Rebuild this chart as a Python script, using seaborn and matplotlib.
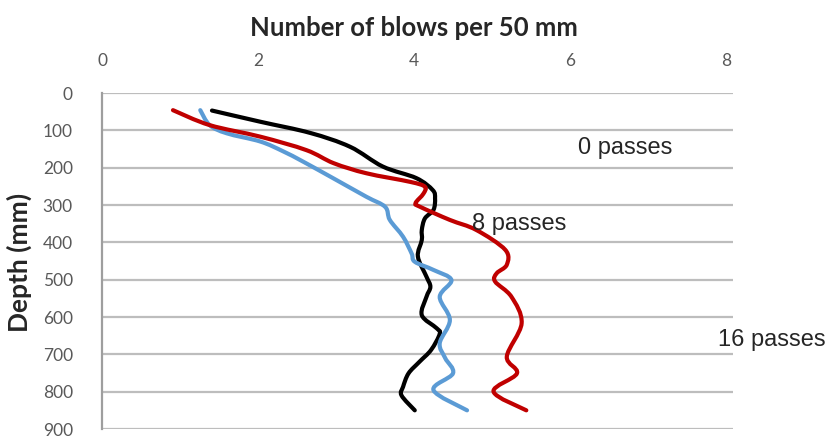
import matplotlib
matplotlib.use("Agg")
import matplotlib.pyplot as plt
from matplotlib.path import Path
from matplotlib.patches import PathPatch
import numpy as np
import seaborn as sns
import pandas as pd

# Penetrometer profiles: blows per 50 mm against depth (mm)
depth_0 = [47, 77, 107, 144, 197, 228, 260, 282, 313, 336, 367, 394, 438, 492,
           519, 546, 595, 630, 645, 688, 720, 751, 787, 810, 850]
blows_0 = [1.41, 2.03, 2.67, 3.18, 3.60, 4.03, 4.24, 4.27, 4.25, 4.14, 4.10, 4.10,
           4.05, 4.16, 4.21, 4.16, 4.10, 4.29, 4.33, 4.22, 4.07, 3.93, 3.86, 3.84, 4.01]

depth_8 = [46, 86, 108, 130, 156, 184, 229, 278, 305, 340, 385, 430, 452, 474,
           501, 546, 608, 670, 710, 751, 796, 850]
blows_8 = [1.26, 1.38, 1.60, 2.03, 2.32, 2.58, 2.97, 3.39, 3.63, 3.69, 3.86, 3.97,
           4.01, 4.25, 4.48, 4.33, 4.46, 4.33, 4.40, 4.50, 4.25, 4.68]

depth_16 = [46, 86, 117, 153, 188, 215, 238, 251, 270, 295, 305, 340, 367, 420,
            460, 483, 505, 546, 617, 706, 751, 800, 850]
blows_16 = [0.91, 1.38, 2.03, 2.62, 2.97, 3.39, 3.95, 4.14, 4.12, 4.02, 4.08, 4.46,
            4.80, 5.17, 5.19, 5.06, 5.04, 5.25, 5.38, 5.19, 5.32, 5.02, 5.44]

series_names = ["0 passes", "8 passes", "16 passes"]
series_colors = ["#000000", "#5B9BD5", "#C00000"]

frames = []
for name, d, b in zip(series_names, [depth_0, depth_8, depth_16],
                      [blows_0, blows_8, blows_16]):
    frames.append(pd.DataFrame({"depth": d, "blows": b, "series": name}))
df = pd.concat(frames, ignore_index=True)

sns.set_style("white")
plt.rcParams["font.family"] = ["Lato", "DejaVu Sans"]

W, H = 827, 437
fig = plt.figure(figsize=(W / 100, H / 100), dpi=100)
ax = fig.add_axes([102 / W, 1 - 429 / H, (733 - 102) / W, (429 - 93) / H])

sns.lineplot(data=df, x="blows", y="depth", hue="series", hue_order=series_names,
             palette=series_colors, sort=False, orient="y", estimator=None,
             linewidth=3.0, legend=False, ax=ax)


def smooth_path(xy):
    """Catmull-Rom style cubic Bezier path through the given vertices."""
    n = len(xy)
    verts = [xy[0]]
    codes = [Path.MOVETO]
    for i in range(n - 1):
        p0 = xy[i - 1] if i > 0 else xy[i]
        p1, p2 = xy[i], xy[i + 1]
        p3 = xy[i + 2] if i + 2 < n else xy[i + 1]
        verts += [p1 + (p2 - p0) / 6.0, p2 - (p3 - p1) / 6.0, p2]
        codes += [Path.CURVE4] * 3
    return Path(np.array(verts), codes)


# Draw each seaborn line as a smoothed curve through the same points
for line in list(ax.get_lines()):
    xy = np.asarray(line.get_xydata(), dtype=float)
    if len(xy) < 2:
        continue
    patch = PathPatch(smooth_path(xy), facecolor="none",
                      edgecolor=line.get_color(), linewidth=line.get_linewidth(),
                      capstyle="round", joinstyle="round",
                      transform=ax.transData, zorder=line.get_zorder())
    ax.add_patch(patch)
    line.set_visible(False)

ax.set_xlim(0, 8.09)
ax.set_ylim(900, 0)
ax.set_xticks([0, 2, 4, 6, 8])
ax.set_yticks(range(0, 901, 100))
ax.xaxis.tick_top()
ax.xaxis.set_label_position("top")
ax.tick_params(axis="both", length=0, labelsize=12.5, labelcolor="#595959")
ax.tick_params(axis="x", pad=17)
ax.tick_params(axis="y", pad=21)

ax.yaxis.grid(True, color="#BDBDBD", linewidth=1.6)
ax.xaxis.grid(False)
for side in ["top", "right", "bottom"]:
    ax.spines[side].set_visible(False)
ax.spines["left"].set_color("#9E9E9E")
ax.spines["left"].set_linewidth(1.6)

ax.set_xlabel("Number of blows per 50 mm", fontsize=18.5, fontweight="bold",
              color="#262626")
ax.set_ylabel("Depth (mm)", fontsize=19, fontweight="bold", color="#262626")
ax.xaxis.label.set_va("center")
ax.yaxis.label.set_va("center")
ax.xaxis.set_label_coords((414 - 102) / 631, 1 + (93 - 28) / 336)
ax.yaxis.set_label_coords((19 - 102) / 631, (429 - 262) / 336)

# Series labels placed beside the profiles
label_font = ["Liberation Sans", "DejaVu Sans"]
fig.text(578 / W, 1 - 148 / H, "0 passes", fontsize=17, family=label_font,
         va="center", ha="left")
fig.text(472 / W, 1 - 224 / H, "8 passes", fontsize=17, family=label_font,
         va="center", ha="left")
fig.text(718 / W, 1 - 340 / H, "16 passes", fontsize=17, family=label_font,
         va="center", ha="left")

fig.savefig("out.png", dpi=100)
